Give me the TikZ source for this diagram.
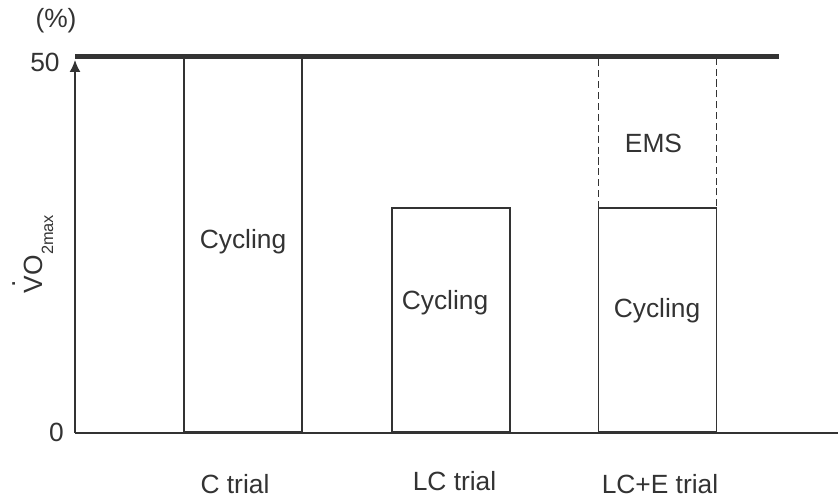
\documentclass[tikz,border=0pt]{standalone}
\usepackage{fontspec}
\setmainfont{Liberation Sans}
\usetikzlibrary{arrows.meta}
\definecolor{ink}{HTML}{333333}

\begin{document}
\begin{tikzpicture}[
        box/.style={
            rectangle,
            draw=ink,
            line width=0.9pt,
            minimum width=2.36cm,
            inner sep=0pt,
            anchor=south
        },
        lbl/.style={
            text=ink,
            inner sep=0pt,
            font=\fontsize{15}{18}\selectfont
        },
        >={Latex[length=0.24cm,width=0.22cm]}
    ]
    \useasboundingbox (0,0) rectangle (16.78,9.94);

    % Axes
    \coordinate (O) at (1.5,1.28);
    \coordinate (Ytop) at (1.5,8.74);
    \coordinate (Xend) at (16.76,1.28);
    \draw[->,ink,line width=0.9pt] (O) -- (Ytop);
    \draw[ink,line width=0.9pt] (O) -- (Xend);

    % Main boxes
    \node[box,minimum height=7.53cm] (C) at (4.86,1.28) {};
    \node[box,minimum height=4.48cm] (LC) at (9.02,1.28) {};
    \node[box,minimum height=4.48cm] (LCE) at (13.15,1.28) {};
    \node[box,dash pattern=on 4pt off 2.2pt,minimum height=3.05cm] (EMS) at (13.15,5.76) {};

    % Maximum line
    \coordinate (Mstart) at (1.5,8.81);
    \coordinate (Mend) at (15.58,8.81);
    \draw[ink,line width=2.8pt] (Mstart) -- (Mend);

    % Labels
    \node[lbl] (pct) at (1.12,9.52) {(\%)};
    \node[lbl] (fifty) at (0.9,8.7) {50};
    \node[lbl] (zero) at (1.13,1.29) {0};
    \node[lbl,rotate=90,anchor=base] (vo2) at (0.84,4.86)
        {\makebox[0pt][l]{\kern0.2em\raisebox{1.02em}[0pt][0pt]{.}}V%
         O\raisebox{-0.42em}{\fontsize{9.3}{10}\selectfont 2max}};
    \node[lbl] (cycC) at (4.86,5.1) {Cycling};
    \node[lbl] (cycLC) at (8.9,3.88) {Cycling};
    \node[lbl] (cycLCE) at (13.14,3.72) {Cycling};
    \node[lbl] (ems) at (13.07,7.08) {EMS};
    \node[lbl] (trialC) at (4.7,0.26) {C trial};
    \node[lbl] (trialLC) at (9.09,0.32) {LC trial};
    \node[lbl] (trialLCE) at (13.2,0.26) {LC+E trial};

\end{tikzpicture}
\end{document}
